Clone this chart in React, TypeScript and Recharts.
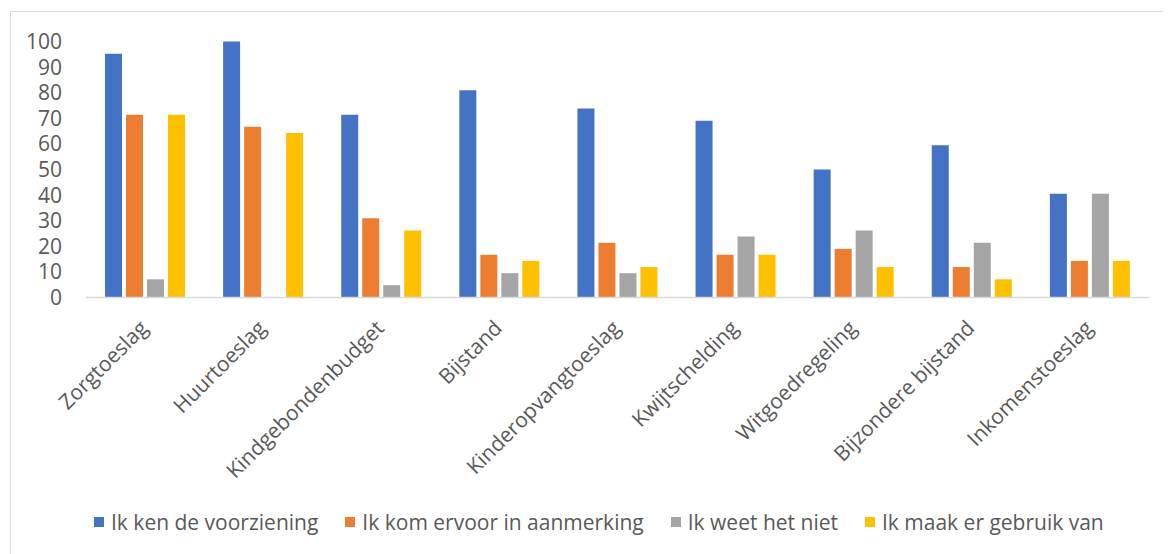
import React from "react";
import { BarChart, Bar, XAxis, YAxis, Legend } from "recharts";

const categories = [
  "Zorgtoeslag",
  "Huurtoeslag",
  "Kindgebondenbudget",
  "Bijstand",
  "Kinderopvangtoeslag",
  "Kwijtschelding",
  "Witgoedregeling",
  "Bijzondere bijstand",
  "Inkomenstoeslag",
];

const kenVoorziening = [95.2, 100, 71.4, 81.0, 73.8, 69.0, 50.0, 59.5, 40.5];
const komInAanmerking = [71.4, 66.7, 31.0, 16.7, 21.4, 16.7, 19.0, 11.9, 14.3];
const weetHetNiet = [7.1, 0, 4.8, 9.5, 9.5, 23.8, 26.2, 21.4, 40.5];
const maakGebruik = [71.4, 64.3, 26.2, 14.3, 11.9, 16.7, 11.9, 7.1, 14.3];

const yTicks = [0, 10, 20, 30, 40, 50, 60, 70, 80, 90, 100];

const seriesNames = [
  "Ik ken de voorziening",
  "Ik kom ervoor in aanmerking",
  "Ik weet het niet",
  "Ik maak er gebruik van",
];
const seriesKeys = ["ken", "kom", "weet", "maak"];
const seriesColors = ["#4472C4", "#ED7D31", "#A5A5A5", "#FFC000"];

const data = categories.map((name, i) => ({
  name,
  ken: kenVoorziening[i],
  kom: komInAanmerking[i],
  weet: weetHetNiet[i],
  maak: maakGebruik[i],
}));

const FONT = "'Open Sans', sans-serif";
const TEXT = "#595959";

const XTick = (props: any) => {
  const { x, y, payload } = props;
  return (
    <text
      x={0}
      y={0}
      transform={`translate(${x + 4}, ${y + 24}) rotate(-45)`}
      textAnchor="end"
      fill={TEXT}
      fontSize={21}
      fontFamily={FONT}
    >
      {payload.value}
    </text>
  );
};

const renderLegend = () => (
  <div
    style={{
      display: "flex",
      flexDirection: "row",
      alignItems: "center",
      fontFamily: FONT,
      fontSize: 21,
      color: TEXT,
      whiteSpace: "nowrap",
    }}
  >
    {seriesNames.map((n, i) => (
      <div
        key={n}
        style={{ display: "flex", alignItems: "center", marginRight: i < 3 ? 27 : 0 }}
      >
        <span
          style={{
            display: "inline-block",
            width: 10,
            height: 10,
            background: seriesColors[i],
            marginRight: 7,
          }}
        />
        <span>{n}</span>
      </div>
    ))}
  </div>
);

export default function App() {
  return (
    <div style={{ position: "relative", width: 1160, height: 546 }}>
      <div
        style={{
          position: "absolute",
          left: 2,
          top: 3,
          width: 1157,
          height: 560,
          border: "1px solid #d9d9d9",
          boxSizing: "border-box",
        }}
      />
      <BarChart
        width={1160}
        height={546}
        data={data}
        margin={{ top: 33.5, right: 19, left: 0, bottom: 56.5 }}
        barCategoryGap="16%"
        barGap={4}
        style={{ position: "absolute", left: 0, top: 0 }}
      >
        <XAxis
          dataKey="name"
          height={200}
          interval={0}
          tickLine={false}
          axisLine={{ stroke: "#d9d9d9", strokeWidth: 1.5 }}
          tick={<XTick />}
        />
        <YAxis
          width={78}
          domain={[0, 100]}
          ticks={yTicks}
          interval={0}
          tickLine={false}
          axisLine={false}
          tickMargin={18}
          tick={{ fill: TEXT, fontSize: 21, fontFamily: FONT }}
        />
        <Legend
          layout="horizontal"
          verticalAlign="middle"
          align="center"
          content={renderLegend}
          wrapperStyle={{ position: "absolute", top: 500, left: 86, width: "auto" }}
        />
        {seriesKeys.map((k, i) => (
          <Bar
            key={k}
            dataKey={k}
            name={seriesNames[i]}
            fill={seriesColors[i]}
            barSize={17}
            isAnimationActive={false}
          />
        ))}
      </BarChart>
    </div>
  );
}
